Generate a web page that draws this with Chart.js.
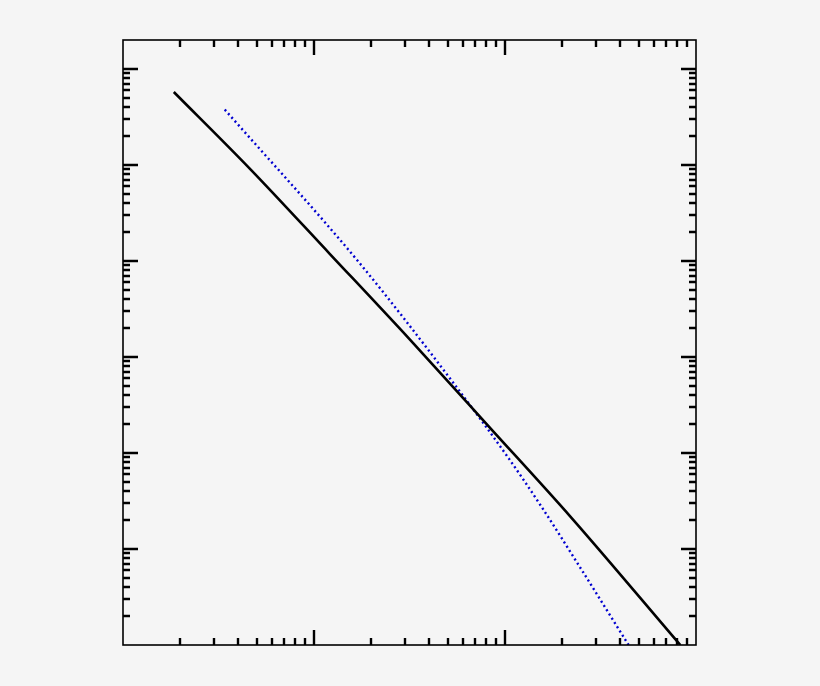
<!DOCTYPE html>
<html>
<head>
<meta charset="utf-8">
<script src="https://cdn.jsdelivr.net/npm/chart.js@4/dist/chart.umd.min.js"></script>
<style>
  html, body { margin: 0; padding: 0; background: #f5f5f5; }
  #wrap { width: 820px; height: 686px; }
</style>
</head>
<body>
<div id="wrap"><canvas id="chart" width="820" height="686"></canvas></div>
<script>
// solid black curve
const blackX = [1.845, 4.61, 12.12, 31.8, 83.5, 219.4, 828];
const blackY = [5.75e5, 9.16e4, 1.18e4, 1514, 183, 21.9, 1.0];

// dotted blue curve
const blueX = [3.41, 17.2, 53.7, 104.2, 152.8, 253.6, 443.6];
const blueY = [3.77e5, 9.66e3, 536, 88.7, 28.9, 5.94, 1.0];

// axis ranges
const xRange = [1, 1000];
const yRange = [1, 2e6];

const toPoints = (xs, ys) => xs.map((v, i) => ({ x: v, y: ys[i] }));

// inward log ticks on all four sides + frame
const frameTicks = {
  id: 'frameTicks',
  afterDraw(chart) {
    const { ctx, chartArea: { left, right, top, bottom }, scales: { x, y } } = chart;
    ctx.save();
    ctx.strokeStyle = '#000';
    ctx.lineWidth = 2.4;
    ctx.beginPath();

    for (let d = -1; d <= 7; d++) {
      for (let m = 1; m <= 9; m++) {
        const v = m * Math.pow(10, d);
        const len = m === 1 ? 15 : 7;
        if (v > x.min && v < x.max) {
          const px = Math.round(x.getPixelForValue(v));
          ctx.moveTo(px, bottom); ctx.lineTo(px, bottom - len);
          ctx.moveTo(px, top); ctx.lineTo(px, top + len);
        }
        if (v > y.min && v < y.max) {
          const py = Math.round(y.getPixelForValue(v));
          ctx.moveTo(left, py); ctx.lineTo(left + len, py);
          ctx.moveTo(right, py); ctx.lineTo(right - len, py);
        }
      }
    }
    ctx.stroke();

    ctx.lineWidth = 1.6;
    ctx.strokeRect(left, top, right - left, bottom - top);
    ctx.restore();
  }
};

new Chart(document.getElementById('chart'), {
  type: 'line',
  data: {
    datasets: [
      {
        data: toPoints(blackX, blackY),
        borderColor: '#000',
        borderWidth: 2.6,
        pointRadius: 0,
        cubicInterpolationMode: 'monotone'
      },
      {
        data: toPoints(blueX, blueY),
        borderColor: '#0000d0',
        borderWidth: 2.4,
        borderDash: [2, 3],
        pointRadius: 0,
        cubicInterpolationMode: 'monotone'
      }
    ]
  },
  options: {
    responsive: false,
    animation: false,
    layout: { padding: { left: 123, right: 124, top: 40, bottom: 41 } },
    scales: {
      x: { type: 'logarithmic', min: xRange[0], max: xRange[1], display: false },
      y: { type: 'logarithmic', min: yRange[0], max: yRange[1], display: false }
    },
    plugins: {
      legend: { display: false },
      tooltip: { enabled: false }
    }
  },
  plugins: [frameTicks]
});
</script>
</body>
</html>
